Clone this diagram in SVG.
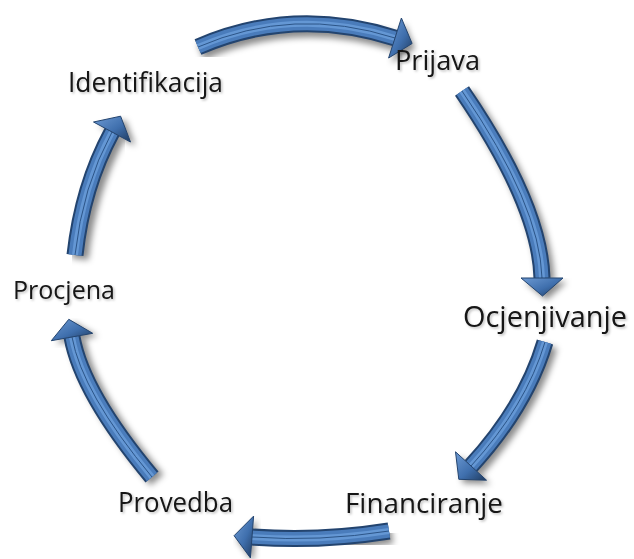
<svg xmlns="http://www.w3.org/2000/svg" xmlns:xlink="http://www.w3.org/1999/xlink" width="634" height="559" viewBox="0 0 634 559">
<style>
  text { font-family: "Open Sans", "Noto Sans", "Liberation Sans", sans-serif; fill: #141414; filter: url(#tsh); }
  .sh { fill: none; stroke: #000; stroke-opacity: 0.45; stroke-width: 17; filter: url(#blur); }
  .shh { fill: #000; fill-opacity: 0.45; stroke: none; filter: url(#blur); }
  .e { fill: none; stroke: #23446f; stroke-width: 17; }
  .b { fill: none; stroke: #4a7cbb; stroke-width: 13; }
  .c { fill: none; stroke: #6497d4; stroke-width: 6; }
  .l { fill: none; stroke: #2c5588; stroke-width: 1; }
  .hd { fill: url(#hg); stroke: #23446f; stroke-width: 1; stroke-linejoin: round; }
</style>
<defs>
  <filter id="blur" x="-20%" y="-20%" width="140%" height="140%">
    <feGaussianBlur stdDeviation="3"/>
  </filter>
  <filter id="tsh" x="-10%" y="-30%" width="120%" height="160%">
    <feDropShadow dx="1.5" dy="1.5" stdDeviation="1" flood-color="#000" flood-opacity="0.25"/>
  </filter>
  <linearGradient id="hg" x1="0" y1="0" x2="1" y2="1">
    <stop offset="0" stop-color="#6d9ad3"/>
    <stop offset="0.55" stop-color="#3f6fad"/>
    <stop offset="1" stop-color="#1f3a5e"/>
  </linearGradient>
  <path id="p1" d="M198,47 Q293.5,5.5 395,38"/>
  <polygon id="h1" points="401.4,18 412.1,43.5 388.6,58"/>
  <path id="p2" d="M462,91 Q540,205 542,278"/>
  <polygon id="h2" points="521,278 542.5,296 563,278"/>
  <path id="p3" d="M545,342 Q526,406 471,466"/>
  <polygon id="h3" points="486.5,480.2 458.8,479.3 455.5,451.8"/>
  <path id="p4" d="M389,531 Q319.5,542 252,537"/>
  <polygon id="h4" points="253.6,516.1 234.1,535.7 250.4,557.9"/>
  <path id="p5" d="M152,477 Q82,393 72,337"/>
  <polygon id="h5" points="92.7,333.3 68.8,319.3 51.3,340.7"/>
  <path id="p6" d="M75,255 Q82.5,186.5 112,132"/>
  <polygon id="h6" points="130.5,142 120.6,116.2 93.5,122"/>
</defs>
<g id="connectors">
  <g id="arrow1">
    <use xlink:href="#p1" class="sh" transform="translate(3,5)"/>
    <use xlink:href="#h1" class="shh" transform="translate(3,5)"/>
    <use xlink:href="#p1" class="e"/><use xlink:href="#p1" class="b"/><use xlink:href="#p1" class="c"/><use xlink:href="#p1" class="l"/>
    <use xlink:href="#h1" class="hd"/>
  </g>
  <g id="arrow2">
    <use xlink:href="#p2" class="sh" transform="translate(4,4)"/>
    <use xlink:href="#h2" class="shh" transform="translate(4,4)"/>
    <use xlink:href="#p2" class="e"/><use xlink:href="#p2" class="b"/><use xlink:href="#p2" class="c"/><use xlink:href="#p2" class="l"/>
    <use xlink:href="#h2" class="hd"/>
  </g>
  <g id="arrow3">
    <use xlink:href="#p3" class="sh" transform="translate(4,4)"/>
    <use xlink:href="#h3" class="shh" transform="translate(4,4)"/>
    <use xlink:href="#p3" class="e"/><use xlink:href="#p3" class="b"/><use xlink:href="#p3" class="c"/><use xlink:href="#p3" class="l"/>
    <use xlink:href="#h3" class="hd"/>
  </g>
  <g id="arrow4">
    <use xlink:href="#p4" class="sh" transform="translate(3,4)"/>
    <use xlink:href="#h4" class="shh" transform="translate(3,4)"/>
    <use xlink:href="#p4" class="e"/><use xlink:href="#p4" class="b"/><use xlink:href="#p4" class="c"/><use xlink:href="#p4" class="l"/>
    <use xlink:href="#h4" class="hd"/>
  </g>
  <g id="arrow5">
    <use xlink:href="#p5" class="sh" transform="translate(5,3)"/>
    <use xlink:href="#h5" class="shh" transform="translate(5,3)"/>
    <use xlink:href="#p5" class="e"/><use xlink:href="#p5" class="b"/><use xlink:href="#p5" class="c"/><use xlink:href="#p5" class="l"/>
    <use xlink:href="#h5" class="hd"/>
  </g>
  <g id="arrow6">
    <use xlink:href="#p6" class="sh" transform="translate(5,4)"/>
    <use xlink:href="#h6" class="shh" transform="translate(5,4)"/>
    <use xlink:href="#p6" class="e"/><use xlink:href="#p6" class="b"/><use xlink:href="#p6" class="c"/><use xlink:href="#p6" class="l"/>
    <use xlink:href="#h6" class="hd"/>
  </g>
</g>
<g id="identifikacija"><text x="68" y="92" font-size="27" textLength="155" lengthAdjust="spacingAndGlyphs">Identifikacija</text></g>
<g id="prijava"><text x="395" y="70" font-size="28" textLength="85" lengthAdjust="spacingAndGlyphs">Prijava</text></g>
<g id="ocjenjivanje"><text x="463" y="327" font-size="29" textLength="164" lengthAdjust="spacingAndGlyphs">Ocjenjivanje</text></g>
<g id="financiranje"><text x="345" y="513" font-size="28" textLength="158" lengthAdjust="spacingAndGlyphs">Financiranje</text></g>
<g id="provedba"><text x="118" y="512" font-size="28" textLength="115" lengthAdjust="spacingAndGlyphs">Provedba</text></g>
<g id="procjena"><text x="13" y="299" font-size="25" textLength="102" lengthAdjust="spacingAndGlyphs">Procjena</text></g>
</svg>
